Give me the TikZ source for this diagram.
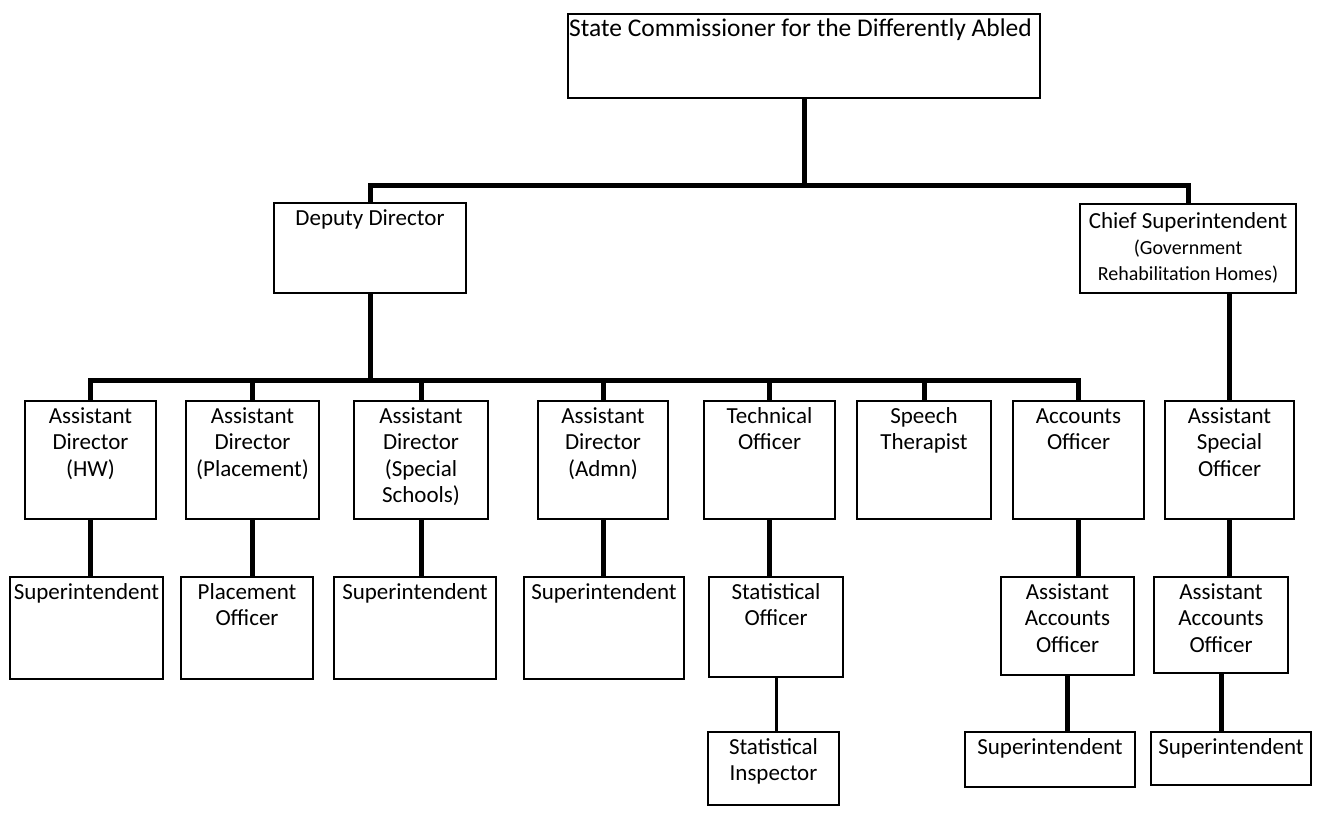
\documentclass[tikz,border=0pt]{standalone}
\usepackage{fontspec}
\setmainfont{Carlito}
\usetikzlibrary{positioning}

\newcommand{\chartfont}{\fontsize{23}{26.5}\selectfont}
\newcommand{\titlefont}{\fontsize{25.5}{29}\selectfont}
\newcommand{\notefont}{\fontsize{20}{26}\selectfont}

\tikzset{
    post/.style={draw, line width=2pt, anchor=north west, inner sep=0pt},
    caption/.style={anchor=base, align=flush center, text width=160pt, inner sep=0pt, font=\chartfont},
    link/.style={line width=5pt},
    thinlink/.style={line width=3pt},
}

\begin{document}
\begin{tikzpicture}[x=1pt, y=-1pt]
        \useasboundingbox (0,0) rectangle (1326,812);
        \coordinate (bus1) at (0,185);
        \coordinate (bus2) at (0,380);

        % state commissioner
        \node[post, minimum width=472pt, minimum height=84pt] (sc) at (567,13) {};
        \node[caption, anchor=base west, align=flush left, text width=520pt, font=\titlefont] (sc-t)
            at ([xshift=2pt, yshift=-23pt]sc.north west) {State Commissioner for the Differently Abled};

        % deputy director
        \node[post, minimum width=192pt, minimum height=90pt] (dd) at (273,202) {};
        \node[caption] (dd-t) at ([yshift=-23pt]dd.north) {Deputy Director};

        % chief superintendent
        \node[post, minimum width=216pt, minimum height=89pt] (cs) at (1079,203) {};
        \node[caption, text width=210pt, font=\notefont] (cs-t) at ([yshift=-25pt]cs.north)
            {{\chartfont Chief Superintendent}\\(Government\\Rehabilitation Homes)};

        % assistant directors and officers
        \node[post, minimum width=131pt, minimum height=118pt] (ad-hw) at (24,400) {};
        \node[caption] (ad-hw-t) at ([yshift=-23pt]ad-hw.north) {Assistant\\Director\\(HW)};

        \node[post, minimum width=133pt, minimum height=118pt] (ad-pl) at (185,400) {};
        \node[caption] (ad-pl-t) at ([yshift=-23pt]ad-pl.north) {Assistant\\Director\\(Placement)};

        \node[post, minimum width=134pt, minimum height=118pt] (ad-ss) at (353,400) {};
        \node[caption] (ad-ss-t) at ([yshift=-23pt]ad-ss.north) {Assistant\\Director\\(Special\\Schools)};

        \node[post, minimum width=130pt, minimum height=118pt] (ad-ad) at (537,400) {};
        \node[caption] (ad-ad-t) at ([yshift=-23pt]ad-ad.north) {Assistant\\Director\\(Admn)};

        \node[post, minimum width=131pt, minimum height=118pt] (to) at (703,400) {};
        \node[caption] (to-t) at ([yshift=-23pt]to.north) {Technical\\Officer};

        \node[post, minimum width=134pt, minimum height=118pt] (st) at (856,400) {};
        \node[caption] (st-t) at ([yshift=-23pt]st.north) {Speech\\Therapist};

        \node[post, minimum width=131pt, minimum height=118pt] (ao) at (1012,400) {};
        \node[caption] (ao-t) at ([yshift=-23pt]ao.north) {Accounts\\Officer};

        \node[post, minimum width=129pt, minimum height=118pt] (aso) at (1164,400) {};
        \node[caption] (aso-t) at ([yshift=-23pt]aso.north) {Assistant\\Special\\Officer};

        % third row
        \node[post, minimum width=153pt, minimum height=102pt] (su-hw) at (9,576) {};
        \node[caption] (su-hw-t) at ([yshift=-23pt]su-hw.north) {Superintendent};

        \node[post, minimum width=132pt, minimum height=102pt] (po) at (180,576) {};
        \node[caption] (po-t) at ([yshift=-23pt]po.north) {Placement\\Officer};

        \node[post, minimum width=162pt, minimum height=102pt] (su-ss) at (333,576) {};
        \node[caption] (su-ss-t) at ([yshift=-23pt]su-ss.north) {Superintendent};

        \node[post, minimum width=160pt, minimum height=102pt] (su-ad) at (523,576) {};
        \node[caption] (su-ad-t) at ([yshift=-23pt]su-ad.north) {Superintendent};

        \node[post, minimum width=134pt, minimum height=100pt] (sto) at (708,576) {};
        \node[caption] (sto-t) at ([yshift=-23pt]sto.north) {Statistical\\Officer};

        \node[post, minimum width=133pt, minimum height=98pt] (aao-a) at (1000,576) {};
        \node[caption] (aao-a-t) at ([yshift=-23pt]aao-a.north) {Assistant\\Accounts\\Officer};

        \node[post, minimum width=134pt, minimum height=96pt] (aao-b) at (1153,576) {};
        \node[caption] (aao-b-t) at ([yshift=-23pt]aao-b.north) {Assistant\\Accounts\\Officer};

        % bottom row
        \node[post, minimum width=131pt, minimum height=73pt] (sti) at (707,731) {};
        \node[caption] (sti-t) at ([yshift=-23pt]sti.north) {Statistical\\Inspector};

        \node[post, minimum width=170pt, minimum height=55pt] (su-aa) at (964,731) {};
        \node[caption] (su-aa-t) at ([yshift=-23pt]su-aa.north) {Superintendent};

        \node[post, minimum width=160pt, minimum height=53pt] (su-ab) at (1150,731) {};
        \node[caption] (su-ab-t) at ([yshift=-23pt]su-ab.north) {Superintendent};

        % top lines
        \draw[link] (sc.south) -- (sc.south |- bus1);
        \draw[link] (dd.north) |- (bus1 -| cs.north) -- (cs.north);

        % deputy director lines
        \draw[link] (dd.south) -- (dd.south |- bus2);
        \draw[link] (ad-hw.north) |- (bus2 -| ao.north) -- (ao.north);
        \draw[link] (ad-pl.north) -- (ad-pl.north |- bus2);
        \draw[link] (ad-ss.north) -- (ad-ss.north |- bus2);
        \draw[link] (ad-ad.north) -- (ad-ad.north |- bus2);
        \draw[link] (to.north) -- (to.north |- bus2);
        \draw[link] (st.north) -- (st.north |- bus2);

        % chief superintendent line
        \draw[link] (aso.north) -- (aso.north |- cs.south);

        % lower lines
        \draw[link] (ad-hw.south) -- (ad-hw.south |- su-hw.north);
        \draw[link] (ad-pl.south) -- (ad-pl.south |- po.north);
        \draw[link] (ad-ss.south) -- (ad-ss.south |- su-ss.north);
        \draw[link] (ad-ad.south) -- (ad-ad.south |- su-ad.north);
        \draw[link] (to.south) -- (to.south |- sto.north);
        \draw[link] (ao.south) -- (ao.south |- aao-a.north);
        \draw[link] (aso.south) -- (aso.south |- aao-b.north);
        \draw[thinlink] (sto.south) -- (sto.south |- sti.north);
        \draw[link] (aao-a.south) -- (aao-a.south |- su-aa.north);
        \draw[link] (aao-b.south) -- (aao-b.south |- su-ab.north);
\end{tikzpicture}
\end{document}
